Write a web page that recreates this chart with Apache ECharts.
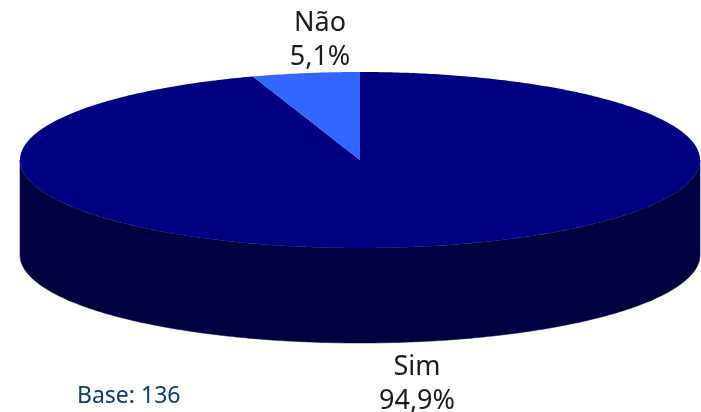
<!DOCTYPE html>
<html><head><meta charset="utf-8">
<style>html,body{margin:0;padding:0;background:#fff}#c{width:701px;height:412px}</style>
<script src="https://cdn.jsdelivr.net/npm/echarts@6/dist/echarts.min.js"></script>
</head><body><div id="c"></div>
<script>
const categories = ['Sim', 'Não'];
const values = [94.9, 5.1];
const valueLabels = ['94,9%', '5,1%'];
const sliceColors = ['#000080', '#3366FF'];
const baseNote = 'Base: 136';

const CX = 360, CY = 160, RX = 340, RY = 88, DEPTH = 95;
const SIDE = '#00003F', FONT = '"Noto Sans", sans-serif';
const labelPos = [[417, 384], [320, 40]];
const total = values.reduce((a, b) => a + b, 0);

function pt(t, dy) { return [CX + RX * Math.sin(t), CY + (dy || 0) - RY * Math.cos(t)]; }
function arc(a, b, dy) {
  const n = Math.max(2, Math.ceil((b - a) / 0.01)), out = [];
  for (let i = 0; i <= n; i++) out.push(pt(a + (b - a) * i / n, dy));
  return out;
}
function renderItem(params, api) {
  const i = params.dataIndex;
  let start = 0;
  for (let k = 0; k < i; k++) start += values[k];
  const a = start / total * 2 * Math.PI;
  const b = (start + api.value(0)) / total * 2 * Math.PI;
  const children = [];
  // visible outer wall: the front half of the rim
  const wa = Math.max(a, Math.PI / 2), wb = Math.min(b, 3 * Math.PI / 2);
  if (wb > wa) {
    children.push({ type: 'polygon', shape: { points: arc(wa, wb, 0).concat(arc(wa, wb, DEPTH).reverse()) },
      style: { fill: SIDE, stroke: SIDE, lineWidth: 0.5 } });
  }
  children.push({ type: 'polygon', z2: 2, shape: { points: [[CX, CY]].concat(arc(a, b, 0)) },
    style: { fill: api.visual('color') } });
  children.push({ type: 'text', z2: 3, style: {
    x: labelPos[i][0], y: labelPos[i][1], text: categories[i] + '\n' + valueLabels[i],
    fill: '#1a1a1a', font: '27px ' + FONT, lineHeight: 34, align: 'center', verticalAlign: 'middle' } });
  return { type: 'group', children };
}
const chart = echarts.init(document.getElementById('c'), null, { renderer: 'canvas' });
chart.setOption({
  animation: false,
  graphic: [{ type: 'text', left: 77, top: 385, style: { text: baseNote, fill: '#0B3C70', font: '23px ' + FONT } }],
  series: [{
    type: 'custom', coordinateSystem: 'none', renderItem, silent: true,
    data: values.map((v, i) => ({ name: categories[i], value: [v], itemStyle: { color: sliceColors[i] } }))
  }]
});
</script></body></html>
